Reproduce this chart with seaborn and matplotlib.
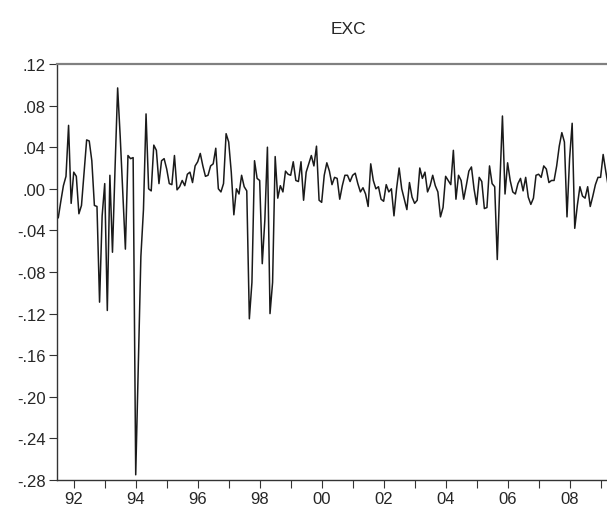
import numpy as np
import pandas as pd
import seaborn as sns
from matplotlib import pyplot as plt

# monthly series, starting 1991M07
exc = [
    -0.028, -0.012, 0.003, 0.012, 0.061, -0.014, 0.016, 0.012, -0.024, -0.016,
    0.015, 0.047, 0.046, 0.027, -0.016, -0.017, -0.109, -0.026, 0.005, -0.117,
    0.013, -0.061, 0.020, 0.097, 0.050, -0.005, -0.058, 0.032, 0.029, 0.030,
    -0.275, -0.170, -0.065, -0.020, 0.072, 0.000, -0.002, 0.042, 0.037, 0.005,
    0.027, 0.029, 0.019, 0.005, 0.004, 0.032, -0.001, 0.002, 0.008, 0.003,
    0.014, 0.016, 0.006, 0.022, 0.026, 0.034, 0.022, 0.012, 0.013, 0.022,
    0.024, 0.039, 0.000, -0.003, 0.005, 0.053, 0.045, 0.016, -0.025, 0.000,
    -0.005, 0.013, 0.002, -0.002, -0.125, -0.090, 0.027, 0.010, 0.008, -0.072,
    -0.030, 0.040, -0.120, -0.090, 0.031, -0.009, 0.003, -0.003, 0.017, 0.014,
    0.013, 0.026, 0.008, 0.007, 0.026, -0.011, 0.016, 0.024, 0.032, 0.022,
    0.041, -0.011, -0.013, 0.013, 0.025, 0.017, 0.004, 0.011, 0.010, -0.010,
    0.003, 0.013, 0.013, 0.007, 0.013, 0.015, 0.005, -0.003, 0.001, -0.005,
    -0.017, 0.024, 0.008, 0.000, 0.002, -0.010, -0.012, 0.004, -0.003, 0.000,
    -0.026, 0.000, 0.020, 0.000, -0.010, -0.020, 0.006, -0.008, -0.014, -0.011,
    0.020, 0.010, 0.016, -0.003, 0.003, 0.013, 0.003, -0.003, -0.027, -0.018,
    0.012, 0.008, 0.004, 0.037, -0.010, 0.013, 0.008, -0.010, 0.003, 0.017,
    0.021, 0.000, -0.015, 0.011, 0.007, -0.019, -0.018, 0.022, 0.005, 0.002,
    -0.068, 0.005, 0.070, -0.005, 0.025, 0.008, -0.003, -0.005, 0.005, 0.010,
    -0.002, 0.011, -0.008, -0.015, -0.009, 0.013, 0.014, 0.011, 0.022, 0.019,
    0.006, 0.008, 0.008, 0.022, 0.041, 0.054, 0.045, -0.027, 0.029, 0.063,
    -0.038, -0.016, 0.002, -0.007, -0.009, 0.002, -0.017, -0.007, 0.004, 0.011,
    0.011, 0.033, 0.017, 0.002,
]
start_year = 1991.5

year_ticks = list(range(1992, 2010))
year_labels = ["92", "", "94", "", "96", "", "98", "", "00", "",
               "02", "", "04", "", "06", "", "08", ""]
y_ticks = [0.12, 0.08, 0.04, 0.00, -0.04, -0.08, -0.12, -0.16, -0.20, -0.24, -0.28]
y_labels = [".12", ".08", ".04", ".00", "-.04", "-.08", "-.12", "-.16", "-.20", "-.24", "-.28"]

df = pd.DataFrame({"t": start_year + np.arange(len(exc)) / 12.0, "EXC": exc})

sns.set_style("ticks")
plt.rcParams["font.family"] = ["Liberation Sans", "DejaVu Sans"]

fig = plt.figure(figsize=(6.07, 5.10), dpi=100)
# plot area runs past the right edge of the picture, as in the reference crop
ax = fig.add_axes([57 / 607, 29 / 510, 582 / 607, 416 / 510])

sns.lineplot(data=df, x="t", y="EXC", color="#1a1a1a", linewidth=1.1, ax=ax)

ax.set_xlim(start_year - 0.04, start_year + 18.74)
ax.set_ylim(-0.28, 0.12)
ax.set_xticks(year_ticks)
ax.set_xticklabels(year_labels)
ax.set_yticks(y_ticks)
ax.set_yticklabels(y_labels)
ax.set_xlabel("")
ax.set_ylabel("")
ax.set_title("EXC", fontsize=12.5, pad=22)

ax.tick_params(axis="both", direction="out", length=6, width=0.8, color="#333333",
               labelsize=12, pad=2)
for side in ["left", "bottom"]:
    ax.spines[side].set_color("#333333")
    ax.spines[side].set_linewidth(1.0)
ax.spines["top"].set_color("#808080")
ax.spines["top"].set_linewidth(1.6)
ax.spines["right"].set_visible(False)

fig.savefig("out.png", dpi=100)
